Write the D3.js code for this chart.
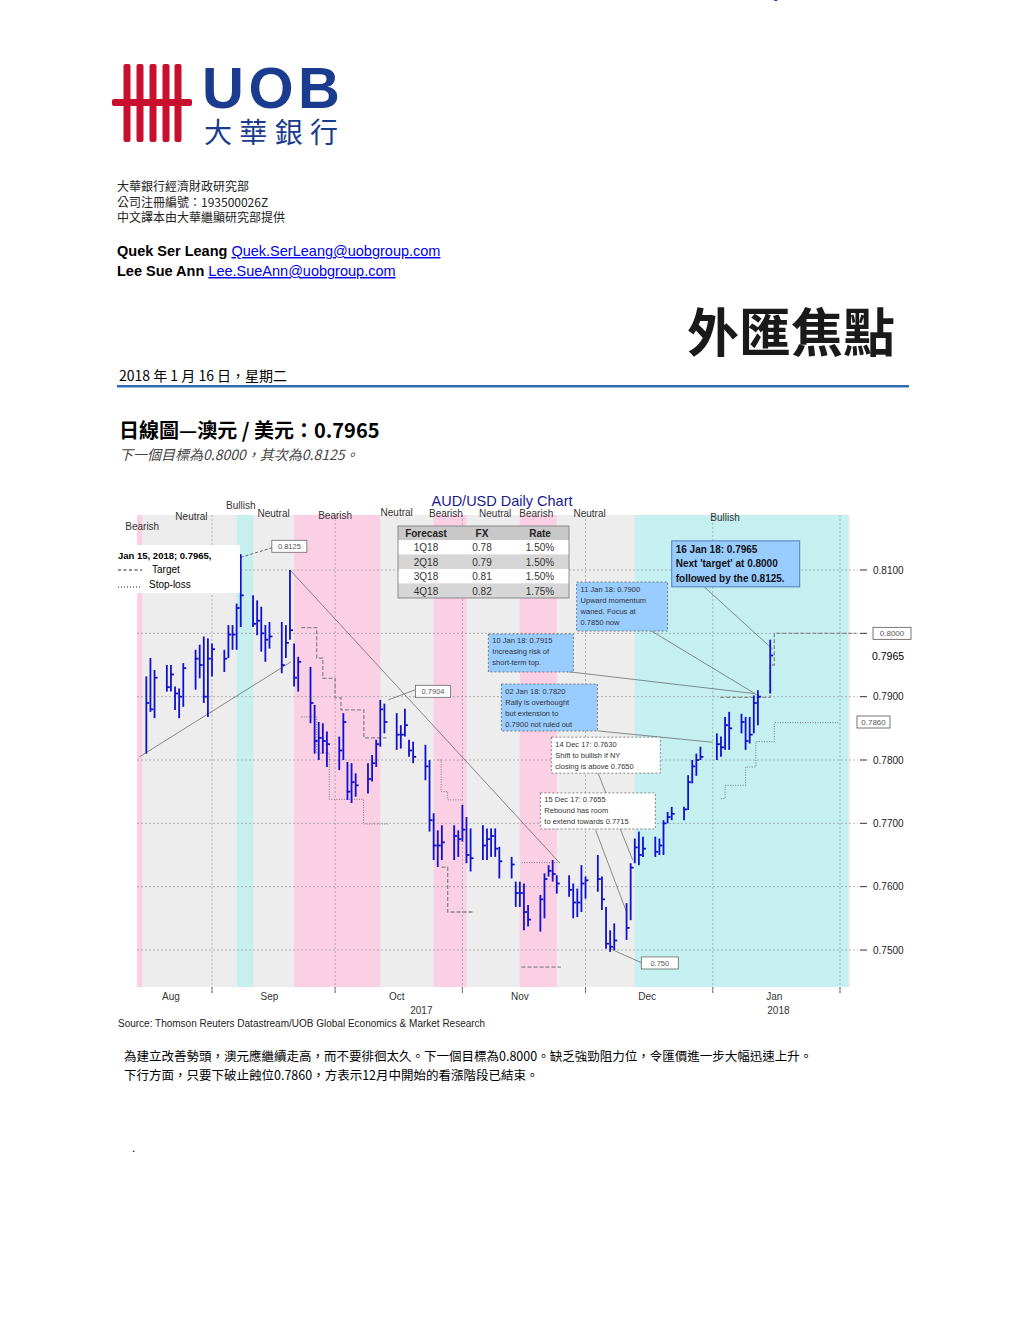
<!DOCTYPE html>
<html>
<head>
<meta charset="utf-8">
<script src="https://cdn.jsdelivr.net/npm/d3@7"></script>
<style>
  body { margin: 0; background: #fff; }
  svg text { font-family: "Liberation Sans", Arial, sans-serif; }
  .cjk { font-family: "Noto Sans CJK TC", sans-serif; }
</style>
</head>
<body>
<svg id="page" width="1020" height="1320"></svg>
<script>
// ---- data ----
// OHLC bars (high, low, close), one per trading day from 16 Aug 2017 to 16 Jan 2018
const highs = [
  .7932,.7961,.7942,.7950,.7950,.7916,.7913,.7953,.7974,.7982,.7995,.7992,
  .7984,.7974,.8013,.8013,.8047,.8125,.8060,.8052,.8042,.8013,.8018,.8018,.8013,.8100,.7984,.7963,.7947,.7887,.7860,.7858,.7845,
  .7837,.7874,.7797,.7795,.7779,.7795,.7808,.7832,.7895,.7889,.7874,.7855,.7881,.7832,.7829,.7824,
  .7800,.7716,.7689,.7697,.7697,.7689,.7729,.7710,.7692,.7697,.7692,.7692,.7692,.7663,.7647,.7608,.7608,.7605,.7571,.7587,.7621,.7634,.7642,.7618,.7618,.7605,.7597,
  .7634,.7616,.7650,.7616,.7568,.7531,.7542,.7574,.7637,.7676,.7687,.7679,.7679,.7676,.7705,.7718,.7726,.7726,.7776,.7800,
  .7810,.7821,.7842,.7837,.7868,.7876,.7873,.7868,.7868,.7902,.7910,.7990
];
const lows = [
  .7810,.7876,.7866,.7908,.7908,.7879,.7866,.7884,.7911,.7929,.7890,.7868,
  .7932,.7939,.7961,.7974,.7974,.8010,.8010,.7997,.7971,.7955,.7976,.7937,.7961,.7990,.7916,.7908,.7858,.7810,.7800,.7810,.7789,
  .7784,.7800,.7737,.7732,.7742,.7747,.7766,.7789,.7821,.7842,.7816,.7818,.7837,.7805,.7795,.7768,
  .7687,.7642,.7631,.7642,.7642,.7647,.7671,.7637,.7624,.7642,.7642,.7647,.7647,.7613,.7613,.7568,.7568,.7531,.7537,.7529,.7550,.7616,.7608,.7589,.7584,.7550,.7552,
  .7560,.7581,.7592,.7563,.7502,.7497,.7500,.7516,.7547,.7637,.7634,.7647,.7647,.7650,.7650,.7700,.7705,.7705,.7721,.7763,
  .7775,.7800,.7800,.7805,.7816,.7816,.7842,.7816,.7826,.7842,.7855,.7905
];
const closes = [
  .7890,.7880,.7930,.7915,.7935,.7905,.7900,.7945,.7960,.7950,.7900,.7960,
  .7975,.7960,.7998,.7998,.8040,.8060,.8015,.8020,.8000,.7990,.7995,.7950,.7985,.8005,.7930,.7955,.7890,.7830,.7835,.7830,.7825,
  .7815,.7860,.7750,.7765,.7760,.7770,.7795,.7825,.7880,.7860,.7840,.7840,.7855,.7815,.7805,.7790,
  .7705,.7665,.7665,.7670,.7680,.7675,.7690,.7650,.7645,.7665,.7675,.7680,.7660,.7640,.7635,.7590,.7590,.7560,.7548,.7580,.7612,.7625,.7620,.7605,.7595,.7575,.7575,
  .7605,.7610,.7612,.7580,.7510,.7505,.7515,.7535,.7630,.7662,.7650,.7660,.7655,.7665,.7700,.7710,.7715,.7722,.7765,.7790,
  .7800,.7805,.7825,.7820,.7855,.7850,.7860,.7830,.7840,.7890,.7900,.7965
];

// sentiment bands
const bandStarts = ["2017-08-13", "2017-09-07", "2017-09-21", "2017-10-25", "2017-11-15", "2017-12-13"];
const bandEnds   = ["2017-08-15", "2017-09-11", "2017-10-12", "2017-11-02", "2017-11-24", "2018-02-03"];
const bandTypes  = ["Bearish", "Bullish", "Bearish", "Bearish", "Bearish", "Bullish"];

// region labels: date, price, text
const regionDates = ["2017-08-15","2017-08-27","2017-09-08","2017-09-16","2017-10-01","2017-10-16","2017-10-28","2017-11-09","2017-11-19","2017-12-02","2018-01-04"];
const regionPrices = [.8163, .8179, .8196, .8184, .8181, .8186, .8183, .8183, .8184, .8184, .8177];
const regionNames = ["Bearish","Neutral","Bullish","Neutral","Bearish","Neutral","Bearish","Neutral","Bearish","Neutral","Bullish"];

const yTicks = [0.75, 0.76, 0.77, 0.78, 0.79, 0.80, 0.81];
const yTickLabels = ["0.7500", "0.7600", "0.7700", "0.7800", "0.7900", "", "0.8100"];
const monthTicks = ["2017-09-01","2017-10-01","2017-11-01","2017-12-01","2018-01-01","2018-02-01"];
const monthLabels = ["Aug","Sep","Oct","Nov","Dec","Jan"];
const monthLabelDates = ["2017-08-22","2017-09-15","2017-10-16","2017-11-15","2017-12-16","2018-01-16"];

// forecast table
const fcQuarters = ["1Q18","2Q18","3Q18","4Q18"];
const fcFx = ["0.78","0.79","0.81","0.82"];
const fcRate = ["1.50%","1.50%","1.50%","1.75%"];

// target (dashed) and stop-loss (dotted) step lines: [date, price]
const targetLines = [
  [["2017-09-22T18:00",.8009],["2017-09-26T12:00",.7961],["2017-09-28",.7929],["2017-10-01",.7898],["2017-10-02T10:00",.7879],["2017-10-08",.7835],["2017-10-13T12:00",.7835]],
  [["2017-10-26T22:00",.7631],["2017-10-28T10:00",.7560],["2017-11-04",.7560]],
  [["2017-11-15T10:00",.7473],["2017-11-25",.7473]],
  [["2018-01-02T20:00",.7899],["2018-01-15",.7950],["2018-01-16",.8000],["2018-02-05",.8000]]
];
const stopLines = [
  [["2017-09-22T18:00",.7868],["2017-09-26T12:00",.7811],["2017-09-29T14:00",.7738],["2017-10-07T22:00",.7699],["2017-10-13T22:00",.7699]],
  [["2017-10-26",.7800],["2017-10-26T20:00",.7750],["2017-10-28T10:00",.7737],["2017-11-01",.7737]],
  [["2017-11-15T10:00",.7638],["2017-11-25",.7638]],
  [["2018-01-03",.7739],["2018-01-04",.7760],["2018-01-09",.7789],["2018-01-11T12:00",.7829],["2018-01-16",.7859],["2018-02-01",.7859]]
];

// thin trend / leader lines
const trendLines = [
  [["2017-08-14T08:00",.7805],["2017-09-20T06:00",.7955]],
  [["2017-09-20",.8100],["2017-11-24T12:00",.7639]],
  [["2017-10-14",.7895],["2017-10-20T14:00",.7911]],
  [["2017-12-30",.8073],["2018-01-15T14:00",.7975]],
  [["2017-12-17",.8004],["2018-01-12T12:00",.7900]],
  [["2017-11-26",.7940],["2018-01-11",.7905]],
  [["2017-12-03T22:00",.7846],["2018-01-01",.7828]],
  [["2017-12-04",.7780],["2017-12-12T12:00",.7642]],
  [["2017-12-03T10:00",.7690],["2017-12-11",.7560]],
  [["2017-12-07",.7502],["2017-12-14T14:00",.7480]]
];

// annotation boxes: date, price (top-left), width, height, fill, bold, lines
const notes = [
  { d: "2017-12-22", p: .8146, w: 128, h: 46, fill: "#99ccff", bold: true, dash: null,
    lines: ["16 Jan 18: 0.7965", "Next 'target' at 0.8000", "followed by the 0.8125."] },
  { d: "2017-11-28T20:00", p: .8081, w: 91, h: 49, fill: "#99ccff", bold: false, dash: "2,2",
    lines: ["11 Jan 18: 0.7900", "Upward momentum", "waned. Focus at", "0.7850 now"] },
  { d: "2017-11-07T08:00", p: .7999, w: 85, h: 38, fill: "#99ccff", bold: false, dash: "2,2",
    lines: ["10 Jan 18: 0.7915", "Increasing risk of", "short-term top."] },
  { d: "2017-11-10T12:00", p: .7920, w: 96, h: 47, fill: "#99ccff", bold: false, dash: "2,2",
    lines: ["02 Jan 18: 0.7820", "Rally is overbought", "but extension to", "0.7900 not ruled out"] },
  { d: "2017-11-22T16:00", p: .7836, w: 109, h: 36, fill: "#ffffff", bold: false, dash: "2,2",
    lines: ["14 Dec 17: 0.7630", "Shift to bullish if NY", "closing is above 0.7650"] },
  { d: "2017-11-20", p: .7748, w: 115, h: 36, fill: "#ffffff", bold: false, dash: "2,2",
    lines: ["15 Dec 17: 0.7655", "Rebound has room", "to extend towards 0.7715"] }
];
// small price tags: date, price (top-left), width, text
const tags = [
  { d: "2017-09-15T14:00", p: .8147, w: 35, t: "0.8125" },
  { d: "2017-10-20T14:00", p: .7918, w: 35, t: "0.7904" },
  { d: "2017-12-14T14:00", p: .7489, w: 37, t: "0.750" }
];

// ---- page ----
const svg = d3.select("#page");
const parse = d3.isoParse;

// logo
const red = "#c8102e", navy = "#1b3c8e";
const logo = svg.append("g");
[127, 140, 153, 166, 178].forEach(x =>
  logo.append("rect").attr("x", x - 3.5).attr("y", 64).attr("width", 7).attr("height", 78).attr("rx", 2).attr("fill", red));
logo.append("rect").attr("x", 112).attr("y", 99).attr("width", 80).attr("height", 7).attr("rx", 2).attr("fill", red);
logo.append("text").attr("x", 202).attr("y", 108).attr("font-size", 58).attr("font-weight", "bold")
  .attr("fill", navy).attr("textLength", 138).text("UOB");
logo.append("text").attr("class", "cjk").attr("x", 204).attr("y", 143).attr("font-size", 28)
  .attr("fill", navy).attr("textLength", 134).text("大華銀行");

const small = [["大華銀行經濟財政研究部", 191], ["公司注冊編號：193500026Z", 207], ["中文譯本由大華繼顯研究部提供", 222]];
small.forEach(([t, y]) => svg.append("text").attr("class", "cjk").attr("x", 117).attr("y", y)
  .attr("font-size", 12).attr("fill", "#222").text(t));

function author(name, mail, y) {
  const t = svg.append("text").attr("x", 117).attr("y", y).attr("font-size", 14.5);
  t.append("tspan").attr("font-weight", "bold").attr("fill", "#000").text(name + " ");
  t.append("tspan").attr("fill", "#0000ee").attr("text-decoration", "underline").text(mail);
}
author("Quek Ser Leang ", "Quek.SerLeang@uobgroup.com", 256);
author("Lee Sue Ann", "Lee.SueAnn@uobgroup.com", 276);

svg.append("text").attr("class", "cjk").attr("x", 895).attr("y", 352).attr("text-anchor", "end")
  .attr("font-size", 52).attr("font-weight", "bold").attr("fill", "#1a1a1a").text("外匯焦點");
svg.append("text").attr("class", "cjk").attr("x", 119).attr("y", 381).attr("font-size", 14)
  .text("2018 年 1 月 16 日，星期二");
svg.append("rect").attr("x", 117).attr("y", 385).attr("width", 792).attr("height", 2.5).attr("fill", "#2e6db4");

svg.append("text").attr("class", "cjk").attr("x", 119).attr("y", 438).attr("font-size", 20)
  .attr("font-weight", "bold").text("日線圖—澳元 / 美元：0.7965");
svg.append("text").attr("class", "cjk").attr("x", 119).attr("y", 460).attr("font-size", 14)
  .attr("font-style", "italic").attr("fill", "#444").text("下一個目標為0.8000，其次為0.8125。");

// ---- chart ----
const x = d3.scaleTime().domain([parse("2017-09-01"), parse("2018-02-01")]).range([212, 840]);
const y = d3.scaleLinear().domain([0.75, 0.81]).range([950, 570]);
const plotL = 137, plotR = 850, plotT = 515, plotB = 987;

const clipId = "plotclip";
svg.append("clipPath").attr("id", clipId).append("rect")
  .attr("x", plotL).attr("y", plotT).attr("width", plotR - plotL).attr("height", plotB - plotT);

const chart = svg.append("g");
chart.append("rect").attr("x", plotL).attr("y", plotT).attr("width", plotR - plotL).attr("height", plotB - plotT)
  .attr("fill", "#ededed");

chart.append("g").attr("clip-path", `url(#${clipId})`).selectAll("rect").data(bandStarts).join("rect")
  .attr("x", (d, i) => x(parse(d)))
  .attr("width", (d, i) => x(parse(bandEnds[i])) - x(parse(d)))
  .attr("y", plotT).attr("height", plotB - plotT)
  .attr("fill", (d, i) => bandTypes[i] === "Bullish" ? "#c6f0f0" : "#fbcfe4");

// grid
chart.selectAll(".hg").data(yTicks).join("line")
  .attr("x1", plotL).attr("x2", 858).attr("y1", d => y(d)).attr("y2", d => y(d))
  .attr("stroke", "#888").attr("stroke-width", 0.6).attr("stroke-dasharray", "2,2");
chart.selectAll(".vg").data(monthTicks).join("line")
  .attr("x1", d => x(parse(d))).attr("x2", d => x(parse(d)))
  .attr("y1", plotT).attr("y2", plotB + 6)
  .attr("stroke", "#888").attr("stroke-width", 0.6).attr("stroke-dasharray", "2,2");
chart.selectAll(".vt").data(monthTicks).join("line")
  .attr("x1", d => x(parse(d))).attr("x2", d => x(parse(d)))
  .attr("y1", plotB).attr("y2", plotB + 6).attr("stroke", "#555").attr("stroke-width", 0.8);

// right axis labels
chart.selectAll(".yt").data(yTicks).join("line")
  .attr("x1", 860).attr("x2", 867).attr("y1", d => y(d)).attr("y2", d => y(d)).attr("stroke", "#333");
chart.selectAll(".yl").data(yTicks).join("text")
  .attr("x", 873).attr("y", d => y(d) + 3.5).attr("font-size", 10).attr("fill", "#222")
  .text((d, i) => yTickLabels[i]);
chart.append("text").attr("x", 872).attr("y", y(0.7965) + 4).attr("font-size", 10.5).text("0.7965");
[[0.8000, 873, 38], [0.7860, 857, 33]].forEach(([p, bx, w]) => {
  chart.append("rect").attr("x", bx).attr("y", y(p) - 6).attr("width", w).attr("height", 12)
    .attr("fill", "#fff").attr("stroke", "#555").attr("stroke-width", 0.8);
  chart.append("text").attr("x", bx + w / 2).attr("y", y(p) + 3).attr("text-anchor", "middle")
    .attr("font-size", 8).attr("fill", "#555").text(d3.format(".4f")(p));
});

// bottom labels
chart.selectAll(".ml").data(monthLabels).join("text")
  .attr("x", (d, i) => x(parse(monthLabelDates[i]))).attr("y", 1000)
  .attr("text-anchor", "middle").attr("font-size", 10).attr("fill", "#333").text(d => d);
chart.append("text").attr("x", x(parse("2017-10-22"))).attr("y", 1014).attr("text-anchor", "middle")
  .attr("font-size", 10).attr("fill", "#333").text("2017");
chart.append("text").attr("x", x(parse("2018-01-17"))).attr("y", 1014).attr("text-anchor", "middle")
  .attr("font-size", 10).attr("fill", "#333").text("2018");

// region labels
chart.selectAll(".rl").data(regionNames).join("text")
  .attr("x", (d, i) => x(parse(regionDates[i]))).attr("y", (d, i) => y(regionPrices[i]))
  .attr("text-anchor", "middle").attr("font-size", 10).attr("fill", "#333").text(d => d);

chart.append("text").attr("x", 502).attr("y", 506).attr("text-anchor", "middle")
  .attr("font-size", 14.5).attr("fill", "#1a1a8c").text("AUD/USD Daily Chart");

// trading dates (weekdays, Jan 1 holiday skipped)
const dates = d3.timeDay.range(parse("2017-08-16"), parse("2018-01-17"))
  .filter(d => d.getDay() !== 0 && d.getDay() !== 6 && !(d.getMonth() === 0 && d.getDate() === 1));
const bars = dates.map((d, i) => ({ d, h: highs[i], l: lows[i], c: closes[i] }));

const line = d3.line().x(d => x(parse(d[0]))).y(d => y(d[1]));
const stepLine = d3.line().x(d => x(parse(d[0]))).y(d => y(d[1])).curve(d3.curveStepAfter);

const ov = chart.append("g");
ov.selectAll(".tl").data(trendLines).join("path").attr("d", line)
  .attr("fill", "none").attr("stroke", "#444").attr("stroke-width", 0.6);
ov.selectAll(".tg").data(targetLines).join("path").attr("d", stepLine)
  .attr("fill", "none").attr("stroke", "#888").attr("stroke-width", 1.3).attr("stroke-dasharray", "4,2");
ov.selectAll(".sl").data(stopLines).join("path").attr("d", stepLine)
  .attr("fill", "none").attr("stroke", "#777").attr("stroke-width", 1).attr("stroke-dasharray", "1,1.5");
ov.append("path").attr("d", line([["2017-09-08",.8120],["2017-09-15T14:00",.8135]]))
  .attr("stroke", "#666").attr("stroke-dasharray", "3,2").attr("fill", "none");

// OHLC bars
const bg = chart.append("g").attr("stroke", "#1010d0").attr("stroke-width", 1.8);
bg.selectAll(".b").data(bars).join("line")
  .attr("x1", d => x(d.d)).attr("x2", d => x(d.d)).attr("y1", d => y(d.h)).attr("y2", d => y(d.l));
bg.selectAll(".c").data(bars).join("line")
  .attr("x1", d => x(d.d)).attr("x2", d => x(d.d) + 3).attr("y1", d => y(d.c)).attr("y2", d => y(d.c));

// price tags
tags.forEach(t => {
  const tx = x(parse(t.d)), ty = y(t.p);
  chart.append("rect").attr("x", tx).attr("y", ty).attr("width", t.w).attr("height", 12)
    .attr("fill", "#fff").attr("stroke", "#555").attr("stroke-width", 0.7);
  chart.append("text").attr("x", tx + t.w / 2).attr("y", ty + 9).attr("text-anchor", "middle")
    .attr("font-size", 7.5).attr("fill", "#555").text(t.t);
});

// annotation boxes
notes.forEach(n => {
  const nx = x(parse(n.d)), ny = y(n.p);
  chart.append("rect").attr("x", nx).attr("y", ny).attr("width", n.w).attr("height", n.h)
    .attr("fill", n.fill).attr("stroke", n.bold ? "#4d7fbf" : "#555").attr("stroke-width", n.bold ? 1 : 0.7)
    .attr("stroke-dasharray", n.dash);
  n.lines.forEach((s, i) => {
    chart.append("text").attr("x", nx + 4).attr("y", ny + (n.bold ? 12 : 9.5) + i * (n.bold ? 14.5 : 11))
      .attr("font-size", n.bold ? 10 : 7.5).attr("font-weight", n.bold ? "bold" : "normal")
      .attr("fill", n.bold ? "#111" : "#333").text(s);
  });
});

// forecast table
const tb = chart.append("g").attr("transform", "translate(398,526)");
const colX = [28, 84, 142];
tb.append("rect").attr("width", 171).attr("height", 14).attr("fill", "#c8c8c8");
["Forecast", "FX", "Rate"].forEach((h, i) => tb.append("text").attr("x", colX[i]).attr("y", 11)
  .attr("text-anchor", "middle").attr("font-size", 10).attr("font-weight", "bold").attr("fill", "#222").text(h));
fcQuarters.forEach((q, r) => {
  const ry = 14 + r * 14.5;
  tb.append("rect").attr("y", ry).attr("width", 171).attr("height", 14.5).attr("fill", r % 2 ? "#d6d6d6" : "#fff");
  [q, fcFx[r], fcRate[r]].forEach((v, i) => tb.append("text").attr("x", colX[i]).attr("y", ry + 11)
    .attr("text-anchor", "middle").attr("font-size", 10).attr("fill", "#333").text(v));
});
tb.append("rect").attr("width", 171).attr("height", 72).attr("fill", "none").attr("stroke", "#777").attr("stroke-width", 0.8);

// legend
const lg = chart.append("g").attr("transform", "translate(114,545)");
lg.append("rect").attr("width", 126).attr("height", 48).attr("fill", "#fff");
lg.append("text").attr("x", 4).attr("y", 14).attr("font-size", 9.5).attr("font-weight", "bold").text("Jan 15, 2018; 0.7965,");
lg.append("line").attr("x1", 4).attr("x2", 28).attr("y1", 25).attr("y2", 25).attr("stroke", "#222").attr("stroke-dasharray", "3,2.5");
lg.append("text").attr("x", 38).attr("y", 28).attr("font-size", 10).text("Target");
lg.append("line").attr("x1", 4).attr("x2", 26).attr("y1", 42).attr("y2", 42).attr("stroke", "#222").attr("stroke-dasharray", "1,2");
lg.append("text").attr("x", 35).attr("y", 43).attr("font-size", 10).text("Stop-loss");

svg.append("text").attr("x", 118).attr("y", 1027).attr("font-size", 10).attr("fill", "#222")
  .text("Source: Thomson Reuters Datastream/UOB Global Economics & Market Research");

svg.append("text").attr("class", "cjk").attr("x", 124).attr("y", 1061).attr("font-size", 12.5)
  .text("為建立改善勢頭，澳元應繼續走高，而不要徘徊太久。下一個目標為0.8000。缺乏強勁阻力位，令匯價進一步大幅迅速上升。");
svg.append("text").attr("class", "cjk").attr("x", 124).attr("y", 1080).attr("font-size", 12.5)
  .text("下行方面，只要下破止蝕位0.7860，方表示12月中開始的看漲階段已結束。");
svg.append("text").attr("x", 132).attr("y", 1152).attr("font-size", 12).text(".");
</script>
</body>
</html>
